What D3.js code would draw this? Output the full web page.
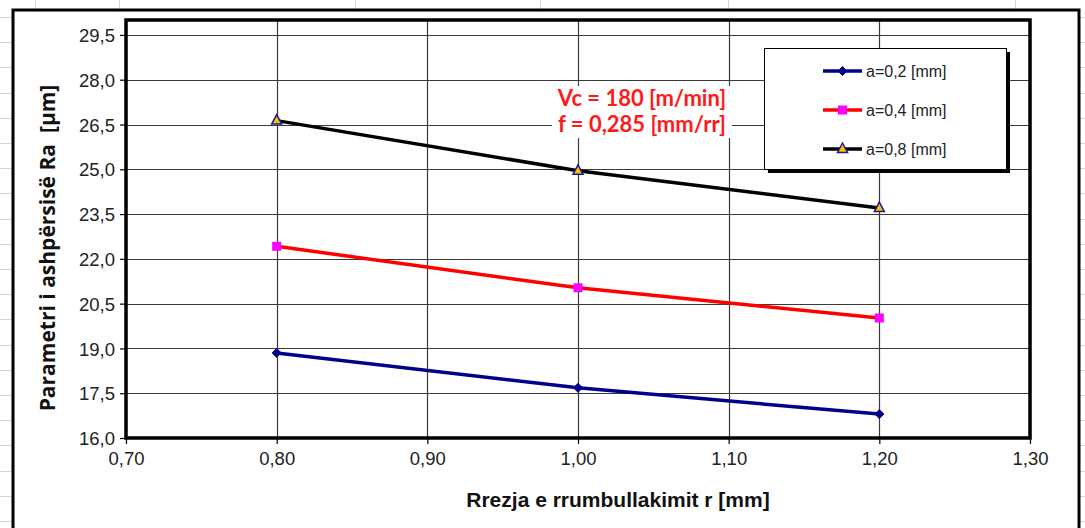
<!DOCTYPE html>
<html>
<head>
<meta charset="utf-8">
<script src="https://cdn.jsdelivr.net/npm/d3@7"></script>
<style>
  html, body { margin: 0; padding: 0; background: #fff; }
  svg { display: block; }
  text { white-space: pre; }
</style>
</head>
<body>
<svg id="chart" width="1085" height="528"></svg>
<script>
// Corner radius r [mm] on the x axis
const radii = [0.80, 1.00, 1.20];
// Roughness Ra [µm] for each depth of cut
const seriesA02 = [18.85, 17.68, 16.80];
const seriesA04 = [22.42, 21.03, 20.02];
const seriesA08 = [26.63, 24.95, 23.70];
const seriesNames = ["a=0,2 [mm]", "a=0,4 [mm]", "a=0,8 [mm]"];
const xTicks = [0.70, 0.80, 0.90, 1.00, 1.10, 1.20, 1.30];
const yTicks = [16.0, 17.5, 19.0, 20.5, 22.0, 23.5, 25.0, 26.5, 28.0, 29.5];
const noteLines = ["Vc = 180 [m/min]", "f = 0,285 [mm/rr]"];
const xTitle = "Rrezja e rrumbullakimit r [mm]";
const yTitle = "Parametri i ashpërsisë Ra  [µm]";

const svg = d3.select("#chart");
const W = 1085, H = 528;
const comma = v => v.toFixed(2).replace(".", ",");
const comma1 = v => v.toFixed(1).replace(".", ",");

// spreadsheet cells behind the chart object
const bg = svg.append("g").attr("stroke", "#d4d4d4").attr("stroke-width", 1);
d3.range(17, H, 25.2).forEach(y => {
  bg.append("line").attr("x1", 0).attr("x2", W).attr("y1", Math.round(y) + 0.5).attr("y2", Math.round(y) + 0.5);
});
[35, 119, 355, 540, 728, 1015].forEach(x => {
  bg.append("line").attr("x1", x + 0.5).attr("x2", x + 0.5).attr("y1", 0).attr("y2", H);
});

// chart object
svg.append("rect").attr("x", 13).attr("y", 10).attr("width", 1066).attr("height", 530)
  .attr("fill", "#fff").attr("stroke", "#000").attr("stroke-width", 3);

const plot = { left: 126, top: 20, right: 1030, bottom: 438 };
const x = d3.scaleLinear().domain([0.7, 1.3]).range([plot.left, plot.right]);
const y = d3.scaleLinear().domain([16, 30]).range([plot.bottom, plot.top]);

const g = svg.append("g");

// gridlines
g.append("g").selectAll("line").data(yTicks).join("line")
  .attr("x1", plot.left).attr("x2", plot.right)
  .attr("y1", d => Math.round(y(d)) + 0.5).attr("y2", d => Math.round(y(d)) + 0.5)
  .attr("stroke", "#3a3a3a").attr("stroke-width", 1.2);
g.append("g").selectAll("line").data(xTicks).join("line")
  .attr("y1", plot.top).attr("y2", plot.bottom)
  .attr("x1", d => Math.round(x(d)) + 0.5).attr("x2", d => Math.round(x(d)) + 0.5)
  .attr("stroke", "#3a3a3a").attr("stroke-width", 1.2);

// axes
const yAxis = d3.axisLeft(y).tickValues(yTicks).tickFormat(comma1).tickSize(6).tickPadding(5);
const xAxis = d3.axisBottom(x).tickValues(xTicks).tickFormat(comma).tickSize(6).tickPadding(8);
const ya = g.append("g").attr("transform", `translate(${plot.left},0)`).call(yAxis);
const xa = g.append("g").attr("transform", `translate(0,${plot.bottom})`).call(xAxis);
[ya, xa].forEach(a => {
  a.select(".domain").remove();
  a.selectAll("line").attr("stroke", "#000").attr("stroke-width", 1.2);
  a.selectAll("text").attr("fill", "#222").style("font-family", "'Liberation Sans', Arial, sans-serif").style("font-size", "18.5px");
});
ya.selectAll("text").attr("dy", "0.36em");

// plot area frame
g.append("rect").attr("x", plot.left).attr("y", plot.top)
  .attr("width", plot.right - plot.left).attr("height", plot.bottom - plot.top)
  .attr("fill", "none").attr("stroke", "#000").attr("stroke-width", 3.5);

// annotation with white background
const note = g.append("g");
note.append("rect").attr("x", 552).attr("y", 86).attr("width", 180).attr("height", 52).attr("fill", "#fff");
note.selectAll("text").data(noteLines).join("text")
  .attr("x", 642).attr("y", (d, i) => 106 + i * 26)
  .attr("text-anchor", "middle")
  .attr("fill", "#ff1a1a")
  .style("font-family", "Lato, 'Open Sans', sans-serif").style("font-weight", "bold").style("font-size", "22px")
  .text(d => d);

// series
const series = [
  { name: seriesNames[0], values: seriesA02, color: "#00008b", marker: "diamond" },
  { name: seriesNames[1], values: seriesA04, color: "#ff0000", marker: "square" },
  { name: seriesNames[2], values: seriesA08, color: "#000000", marker: "triangle" }
];
const line = d3.line().x(d => x(d[0])).y(d => y(d[1]));

function drawMarker(sel, type, cx, cy) {
  if (type === "diamond") {
    sel.append("path").attr("d", `M${cx},${cy - 4.5}L${cx + 4.5},${cy}L${cx},${cy + 4.5}L${cx - 4.5},${cy}Z`)
      .attr("fill", "#00008b").attr("stroke", "#00008b").attr("stroke-width", 1);
  } else if (type === "square") {
    sel.append("rect").attr("x", cx - 4.5).attr("y", cy - 4.5).attr("width", 9).attr("height", 9)
      .attr("fill", "#ff00ff");
  } else {
    sel.append("path").attr("d", `M${cx},${cy - 6}L${cx + 5},${cy + 3.5}L${cx - 5},${cy + 3.5}Z`)
      .attr("fill", "#ffc000").attr("stroke", "#1a1a9a").attr("stroke-width", 1.5);
  }
}

series.forEach(s => {
  const pts = radii.map((r, i) => [r, s.values[i]]);
  g.append("path").datum(pts).attr("d", line)
    .attr("fill", "none").attr("stroke", s.color).attr("stroke-width", 3.5);
  const mk = g.append("g");
  pts.forEach(p => drawMarker(mk, s.marker, x(p[0]), y(p[1])));
});

// legend
const leg = g.append("g");
leg.append("rect").attr("x", 768).attr("y", 52).attr("width", 242).attr("height", 121).attr("fill", "#000");
leg.append("rect").attr("x", 764.5).attr("y", 48.5).attr("width", 242).attr("height", 121)
  .attr("fill", "#fff").attr("stroke", "#000").attr("stroke-width", 1);
series.forEach((s, i) => {
  const ly = 71 + i * 39;
  leg.append("line").attr("x1", 823).attr("x2", 862).attr("y1", ly).attr("y2", ly)
    .attr("stroke", s.color).attr("stroke-width", 3.5);
  drawMarker(leg, s.marker, 842.5, ly);
  leg.append("text").attr("x", 866).attr("y", ly).attr("dy", "0.35em")
    .attr("fill", "#222")
    .style("font-family", "'Liberation Sans', Arial, sans-serif").style("font-size", "16px")
    .text(s.name);
});

// axis titles
svg.append("text").attr("x", 618).attr("y", 507)
  .attr("text-anchor", "middle").attr("fill", "#111")
  .style("font-family", "'Liberation Sans', Arial, sans-serif").style("font-weight", "bold").style("font-size", "21px")
  .text(xTitle);
svg.append("text").attr("transform", `translate(55,${248}) rotate(-90)`)
  .attr("text-anchor", "middle").attr("fill", "#111")
  .style("font-family", "'Open Sans', Lato, sans-serif").style("font-weight", "bold").style("font-size", "21px")
  .text(yTitle);
</script>
</body>
</html>
